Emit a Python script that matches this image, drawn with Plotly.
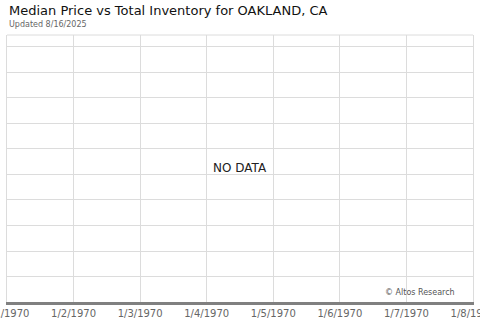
import plotly.graph_objects as go

# Data (chart has no data points)
dates = []
prices = []
tick_dates = ["1970-01-01", "1970-01-02", "1970-01-03", "1970-01-04",
              "1970-01-05", "1970-01-06", "1970-01-07", "1970-01-08"]
tick_labels = ["1/1/1970", "1/2/1970", "1/3/1970", "1/4/1970",
               "1/5/1970", "1/6/1970", "1/7/1970", "1/8/1970"]
y_gridvals = list(range(0, 11))

title = "Median Price vs Total Inventory for OAKLAND, CA"
subtitle = "Updated 8/16/2025"
grid_color = "#dcdcdc"
font = "DejaVu Sans"

fig = go.Figure()
fig.add_trace(go.Scatter(x=dates, y=prices, mode="lines", showlegend=False))

fig.update_layout(
    width=480, height=320,
    margin=dict(l=7, r=7, t=35, b=18, autoexpand=False),
    paper_bgcolor="white", plot_bgcolor="white",
    font=dict(family=font),
    showlegend=False,
    xaxis=dict(
        type="date",
        range=[tick_dates[0], tick_dates[-1]],
        tickvals=tick_dates, ticktext=tick_labels,
        showgrid=True, gridcolor=grid_color, gridwidth=1,
        showline=True, linecolor="#808080", linewidth=3,
        zeroline=False, ticks="",
        tickfont=dict(size=10, color="#666666", family=font),
        ticklabeloverflow="allow",
        automargin=False,
        fixedrange=True,
    ),
    yaxis=dict(
        range=[0, 10.47],
        tickvals=y_gridvals,
        showticklabels=False,
        showgrid=True, gridcolor=grid_color, gridwidth=1,
        showline=True, mirror=True, linecolor=grid_color, linewidth=1,
        zeroline=False, ticks="",
        automargin=False,
        fixedrange=True,
    ),
    shapes=[dict(type="line", xref="paper", yref="paper", x0=0, x1=1, y0=1, y1=1,
                 line=dict(color=grid_color, width=1))],
    annotations=[
        dict(text=title, xref="paper", yref="paper", x=0, y=1, xanchor="left",
             yanchor="bottom", yshift=15, showarrow=False,
             font=dict(size=13, color="#111111", family=font)),
        dict(text=subtitle, xref="paper", yref="paper", x=0, y=1, xanchor="left",
             yanchor="bottom", yshift=4, showarrow=False,
             font=dict(size=8, color="#666666", family=font)),
        dict(text="NO DATA", xref="paper", yref="paper", x=0.5, y=0.5,
             xanchor="center", yanchor="middle", yshift=1, showarrow=False,
             font=dict(size=12, color="#222222", family=font)),
        dict(text="© Altos Research", xref="paper", yref="paper", x=0.965, y=0,
             xanchor="right", yanchor="bottom", yshift=3, showarrow=False,
             font=dict(size=8, color="#555555", family=font)),
    ],
)

fig.write_html("out.html")
